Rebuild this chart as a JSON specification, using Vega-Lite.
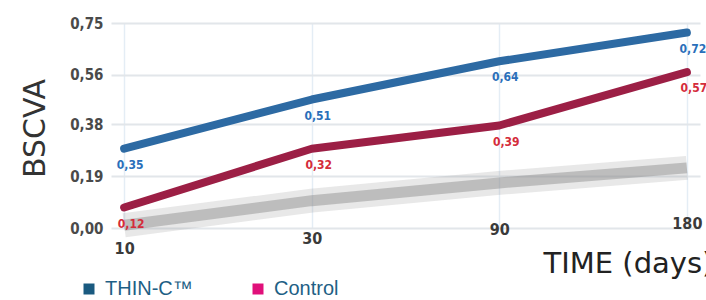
{
  "$schema": "https://vega.github.io/schema/vega-lite/v6.json",
  "width": 589,
  "height": 205,
  "autosize": {"type": "none"},
  "padding": {"left": 111, "top": 23, "right": 6, "bottom": 72},
  "background": "white",
  "config": {"view": {"stroke": null}},
  "datasets": {
    "bscva": [
      {"day": 10, "group": "THIN-C™", "value": 0.29, "label": "0,35"},
      {"day": 30, "group": "THIN-C™", "value": 0.47, "label": "0,51"},
      {"day": 90, "group": "THIN-C™", "value": 0.61, "label": "0,64"},
      {"day": 180, "group": "THIN-C™", "value": 0.715, "label": "0,72"},
      {"day": 10, "group": "Control", "value": 0.075, "label": "0,12"},
      {"day": 30, "group": "Control", "value": 0.29, "label": "0,32"},
      {"day": 90, "group": "Control", "value": 0.375, "label": "0,39"},
      {"day": 180, "group": "Control", "value": 0.57, "label": "0,57"}
    ],
    "shadow": [
      {"day": 10, "value": 0.01},
      {"day": 30, "value": 0.10},
      {"day": 90, "value": 0.165},
      {"day": 180, "value": 0.22}
    ]
  },
  "encoding": {
    "x": {
      "field": "day",
      "type": "ordinal",
      "scale": {"type": "point", "padding": 0.07},
      "axis": {
        "title": "TIME (days)",
        "labelAngle": 0,
        "domain": false,
        "ticks": false,
        "grid": true,
        "gridColor": "#e4edf5",
        "gridWidth": 1.5,
        "labelFont": "DejaVu Sans Condensed",
        "labelFontWeight": "bold",
        "labelFontSize": 16,
        "labelColor": "#3a3a3a",
        "labelPadding": {
          "condition": [
            {"test": "datum.value == 10", "value": 12},
            {"test": "datum.value == 30", "value": 2},
            {"test": "datum.value == 90", "value": -7}
          ],
          "value": -13
        },
        "labelBaseline": "top",
        "titleFont": "DejaVu Sans",
        "titleFontSize": 29,
        "titleFontWeight": "normal",
        "titleColor": "#222222",
        "titleX": 432,
        "titleY": 44,
        "titleAlign": "left",
        "titleBaseline": "alphabetic"
      }
    },
    "y": {
      "field": "value",
      "type": "quantitative",
      "scale": {"domain": [0, 0.75], "nice": false},
      "axis": {
        "title": "BSCVA",
        "values": [0, 0.19, 0.38, 0.56, 0.75],
        "labelExpr": "replace(format(datum.value, '.2f'), '.', ',')",
        "domain": false,
        "ticks": false,
        "gridColor": "#e2e6ea",
        "gridWidth": 2,
        "labelFont": "DejaVu Sans Condensed",
        "labelFontWeight": "bold",
        "labelFontSize": 15,
        "labelColor": "#4a4a4a",
        "labelPadding": 8,
        "titleFont": "DejaVu Sans",
        "titleFontSize": 30,
        "titleFontWeight": "normal",
        "titleColor": "#333333",
        "titleX": -76,
        "titleY": 105,
        "titleAngle": -90,
        "titleAlign": "center",
        "titleBaseline": "middle"
      }
    }
  },
  "layer": [
    {
      "data": {"name": "shadow"},
      "mark": {"type": "line", "color": "#8a8a8a", "strokeWidth": 24, "opacity": 0.2},
      "encoding": {}
    },
    {
      "data": {"name": "shadow"},
      "mark": {"type": "line", "color": "#8a8a8a", "strokeWidth": 11, "opacity": 0.45},
      "encoding": {}
    },
    {
      "data": {"name": "bscva"},
      "mark": {"type": "line", "strokeWidth": 8, "strokeCap": "round", "strokeJoin": "round"},
      "encoding": {
        "color": {
          "field": "group",
          "type": "nominal",
          "scale": {"domain": ["THIN-C™", "Control"], "range": ["#2d6aa3", "#9c1f45"]},
          "legend": {
            "title": null,
            "orient": "none",
            "legendX": -32,
            "legendY": 256,
            "direction": "horizontal",
            "symbolType": "square",
            "symbolSize": 121,
            "symbolStrokeWidth": 0,
            "labelFont": "Liberation Sans",
            "labelFontSize": 20,
            "labelColor": "#1e5f85",
            "labelOffset": 6,
            "columnPadding": 55,
            "encode": {
              "symbols": {
                "update": {
                  "fill": {"signal": "datum.value === 'Control' ? '#e0107a' : '#1a5a80'"},
                  "stroke": {"value": "transparent"}
                }
              }
            }
          }
        }
      }
    },
    {
      "data": {"name": "bscva"},
      "transform": [{"filter": "datum.group === 'THIN-C™'"}],
      "mark": {"type": "text", "dx": 6, "dy": 16, "font": "DejaVu Sans Condensed", "fontWeight": "bold", "fontSize": 12, "color": "#2a6fba"},
      "encoding": {"text": {"field": "label"}}
    },
    {
      "data": {"name": "bscva"},
      "transform": [{"filter": "datum.group === 'Control'"}],
      "mark": {"type": "text", "dx": 7, "dy": 16, "font": "DejaVu Sans Condensed", "fontWeight": "bold", "fontSize": 12, "color": "#d42c3b"},
      "encoding": {"text": {"field": "label"}}
    }
  ]
}
